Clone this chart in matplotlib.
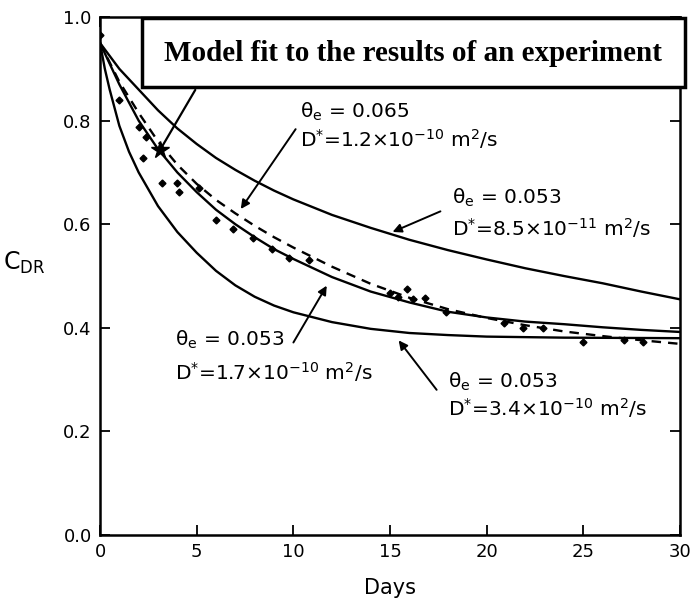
import numpy as np
import matplotlib
matplotlib.use("Agg")
import matplotlib.pyplot as plt
from matplotlib.patches import Rectangle

# Data
days = [0, 1, 2, 3, 4, 5, 6, 7, 8, 9, 10, 12, 14, 16, 18, 20, 22, 24, 26, 28, 30]

# theta_e = 0.053, D* = 8.5e-11
c_85e11 = [0.95, 0.90, 0.86, 0.82, 0.785, 0.755, 0.728, 0.705, 0.684, 0.665, 0.648,
           0.618, 0.593, 0.570, 0.550, 0.532, 0.515, 0.500, 0.486, 0.470, 0.455]

# theta_e = 0.053, D* = 1.7e-10 (best fit)
c_17e10 = [0.95, 0.87, 0.80, 0.745, 0.70, 0.662, 0.628, 0.600, 0.575, 0.552, 0.533,
           0.498, 0.470, 0.449, 0.431, 0.420, 0.412, 0.407, 0.401, 0.396, 0.392]

# theta_e = 0.065, D* = 1.2e-10 (dashed)
c_12e10 = [0.95, 0.875, 0.815, 0.76, 0.715, 0.678, 0.647, 0.621, 0.597, 0.575, 0.555,
           0.518, 0.485, 0.458, 0.436, 0.419, 0.405, 0.393, 0.384, 0.376, 0.369]

# theta_e = 0.053, D* = 3.4e-10
days_fast = [0, 0.25, 0.5, 1, 1.5, 2, 3, 4, 5, 6, 7, 8, 9, 10, 12, 14, 16, 18, 20, 24, 30]
c_34e10 = [0.95, 0.90, 0.86, 0.79, 0.74, 0.70, 0.635, 0.585, 0.545, 0.51, 0.482, 0.46,
           0.443, 0.43, 0.411, 0.398, 0.39, 0.386, 0.383, 0.381, 0.38]

# experiment
exp_days = [0, 0, 1.0, 2.0, 2.4, 2.2, 3.2, 4.0, 4.1, 5.1, 6.0, 6.9, 7.9, 8.9, 9.8, 10.8,
            15.0, 15.4, 15.9, 16.2, 16.8, 17.9, 20.9, 21.9, 22.9, 25.0, 27.1, 28.1]
exp_c = [0.965, 0.94, 0.84, 0.788, 0.769, 0.727, 0.679, 0.679, 0.663, 0.67, 0.608, 0.59,
         0.573, 0.553, 0.534, 0.53, 0.468, 0.46, 0.474, 0.455, 0.458, 0.431, 0.409, 0.40,
         0.40, 0.372, 0.376, 0.373]

fit_day = 3.1
fit_c = 0.743

x_ticks = [0, 5, 10, 15, 20, 25, 30]
y_ticks = [0.0, 0.2, 0.4, 0.6, 0.8, 1.0]

plt.rcParams['font.family'] = ['DejaVu Sans']
plt.rcParams['mathtext.default'] = 'regular'

fig = plt.figure(figsize=(6.96, 6.10), dpi=100)
ax = fig.add_axes([0.1437, 0.123, 0.8333, 0.849])

lw = 1.7
ax.plot(days, c_85e11, color='black', lw=lw)
ax.plot(days, c_17e10, color='black', lw=lw)
ax.plot(days, c_12e10, color='black', lw=lw, ls=(0, (4, 3)))
ax.plot(days_fast, c_34e10, color='black', lw=lw)
ax.plot(exp_days, exp_c, ls='none', marker='D', ms=3.5, color='black')
ax.plot([fit_day], [fit_c], ls='none', marker='*', ms=13, color='black')

ax.set_xlim(0, 30)
ax.set_ylim(0, 1.0)
ax.set_xticks(x_ticks)
ax.set_yticks(y_ticks)
ax.set_yticklabels(['%.1f' % v for v in y_ticks])
ax.tick_params(direction='in', top=True, right=True, length=7, width=1.3,
               labelsize=13, pad=6)
for s in ax.spines.values():
    s.set_linewidth(1.8)

ax.set_xlabel('Days', fontsize=15, labelpad=12)
ax.text(-0.13, 0.525, 'C$_{DR}$', transform=ax.transAxes, fontsize=17,
        ha='center', va='center')

# title box
box = Rectangle((0.072, 0.865), 0.937, 0.133, transform=ax.transAxes,
                fill=True, fc='white', ec='black', lw=2.5, clip_on=False, zorder=5)
ax.add_patch(box)
ax.text(0.54, 0.930, 'Model fit to the results of an experiment', transform=ax.transAxes,
        family='Liberation Serif', weight='bold', fontsize=21, ha='center', va='center',
        zorder=6)
ax.annotate('', xy=(fit_day, fit_c), xytext=(5.0, 0.864),
            arrowprops=dict(arrowstyle='-', lw=1.6, color='black'), zorder=4)

arrow = dict(arrowstyle='-|>', lw=1.4, color='black', mutation_scale=13)
fs = 14.5


def label(x, y_theta, y_d, theta, dstr):
    ax.text(x, y_theta, r'$\theta_e$ = ' + theta, fontsize=fs, ha='left', va='center')
    ax.text(x, y_d, dstr, fontsize=fs, ha='left', va='center')


label(10.35, 0.817, 0.764, '0.065', r'D$^{*}$=1.2$\times$10$^{-10}$ m$^2$/s')
ax.annotate('', xy=(7.2, 0.625), xytext=(10.2, 0.788), arrowprops=arrow)

label(18.2, 0.651, 0.593, '0.053', r'D$^{*}$=8.5$\times$10$^{-11}$ m$^2$/s')
ax.annotate('', xy=(15.0, 0.583), xytext=(17.74, 0.627), arrowprops=arrow)

label(3.88, 0.376, 0.315, '0.053', r'D$^{*}$=1.7$\times$10$^{-10}$ m$^2$/s')
ax.annotate('', xy=(11.8, 0.486), xytext=(9.93, 0.367), arrowprops=arrow)

label(18.0, 0.295, 0.245, '0.053', r'D$^{*}$=3.4$\times$10$^{-10}$ m$^2$/s')
ax.annotate('', xy=(15.36, 0.38), xytext=(17.5, 0.276), arrowprops=arrow)

fig.savefig('out.png', dpi=100)
